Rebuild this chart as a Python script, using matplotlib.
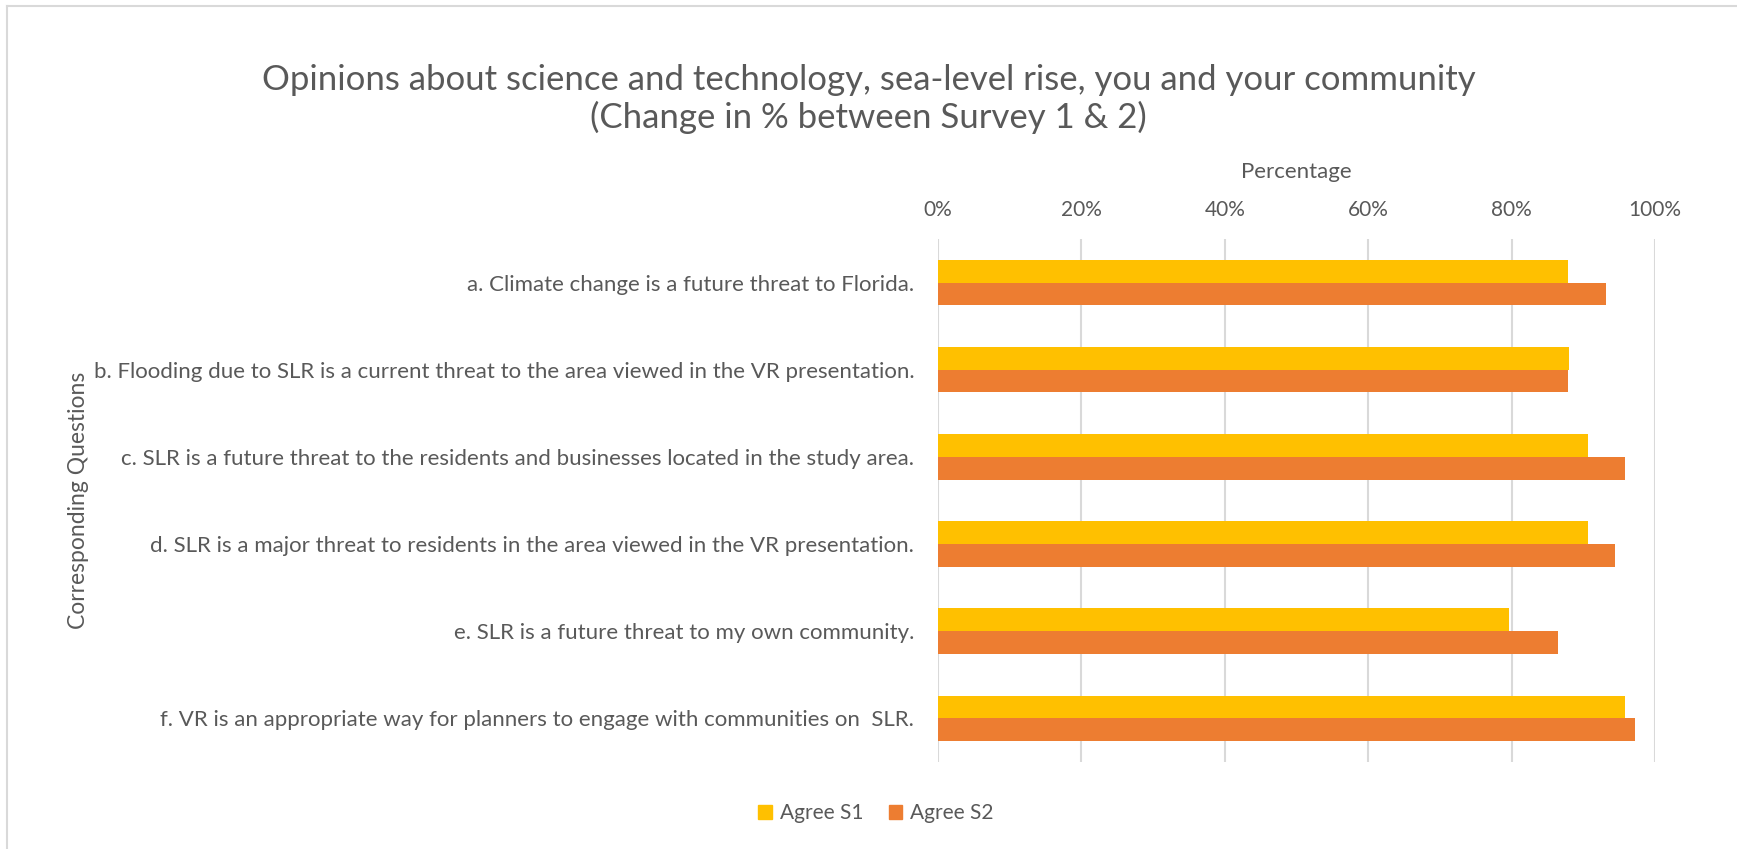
"""Survey opinions: share agreeing in Survey 1 vs Survey 2."""
import matplotlib

matplotlib.use("Agg")
import matplotlib.pyplot as plt
import numpy as np
from matplotlib.lines import Line2D
from matplotlib.patches import Patch

QUESTIONS = [
    "a. Climate change is a future threat to Florida.",
    "b. Flooding due to SLR is a current threat to the area viewed in the VR presentation.",
    "c. SLR is a future threat to the residents and businesses located in the study area.",
    "d. SLR is a major threat to residents in the area viewed in the VR presentation.",
    "e. SLR is a future threat to my own community.",
    "f. VR is an appropriate way for planners to engage with communities on  SLR.",
]
AGREE_S1 = [87.8, 88.0, 90.6, 90.6, 79.6, 95.8]
AGREE_S2 = [93.1, 87.8, 95.8, 94.4, 86.5, 97.2]
XTICKS = [0, 20, 40, 60, 80, 100]

YELLOW = "#FFC000"
ORANGE = "#ED7D31"
TEXT = "#595959"
GRID = "#D9D9D9"

plt.rcParams["font.family"] = ["Lato", "DejaVu Sans"]


def main():
    """Draw it."""
    fig = plt.figure(figsize=(17.37, 8.49), dpi=100)
    ax = fig.add_axes([0.540, 0.1025, 0.4128, 0.616])

    y = np.arange(len(QUESTIONS))
    h = 0.261
    ax.barh(y - h / 2, AGREE_S1, height=h, color=YELLOW, zorder=3)
    ax.barh(y + h / 2, AGREE_S2, height=h, color=ORANGE, zorder=3)

    ax.set_ylim(len(QUESTIONS) - 0.5, -0.5)
    ax.set_yticks(y)
    ax.set_yticklabels(QUESTIONS, fontsize=16, color=TEXT)
    ax.set_xlim(0, 100)
    ax.set_xticks(XTICKS)
    ax.set_xticklabels([f"{t}%" for t in XTICKS], fontsize=15, color=TEXT)
    ax.xaxis.tick_top()
    ax.tick_params(axis="x", length=0, pad=14)
    ax.tick_params(axis="y", length=0, pad=17)
    ax.grid(True, axis="x", color=GRID, lw=1.5, zorder=0)
    for s in ax.spines.values():
        s.set_visible(False)

    ax.xaxis.set_label_position("top")
    ax.set_xlabel("Percentage", fontsize=16, color=TEXT)
    ax.xaxis.label.set_va("center")
    ax.xaxis.set_label_coords(0.5, 1.128)
    ax.set_ylabel("Corresponding Questions", fontsize=16.5, color=TEXT)
    ax.yaxis.label.set_va("center")
    ax.yaxis.set_label_coords(-1.199, 0.5)

    fig.text(
        0.5,
        1 - 99 / 849,
        "Opinions about science and technology, sea-level rise, you and your community\n"
        "(Change in % between Survey 1 & 2)",
        ha="center",
        va="center",
        fontsize=25,
        color=TEXT,
        linespacing=1.15,
    )

    fig.legend(
        handles=[
            Patch(color=YELLOW, label="Agree S1"),
            Patch(color=ORANGE, label="Agree S2"),
        ],
        loc="center",
        bbox_to_anchor=(876 / 1737, 1 - 813 / 849),
        ncol=2,
        frameon=False,
        fontsize=15,
        labelcolor=TEXT,
        handlelength=0.65,
        handleheight=0.65,
        handletextpad=0.4,
        columnspacing=1.2,
    )

    # chart area border
    W, H = 1737, 849
    fig.add_artist(Line2D([7 / W, 1], [1 - 6 / H, 1 - 6 / H], color=GRID, lw=1.5))
    fig.add_artist(Line2D([7 / W, 7 / W], [0, 1 - 6 / H], color=GRID, lw=1.5))

    fig.savefig("out.png", dpi=100, facecolor="white")


if __name__ == "__main__":
    main()
